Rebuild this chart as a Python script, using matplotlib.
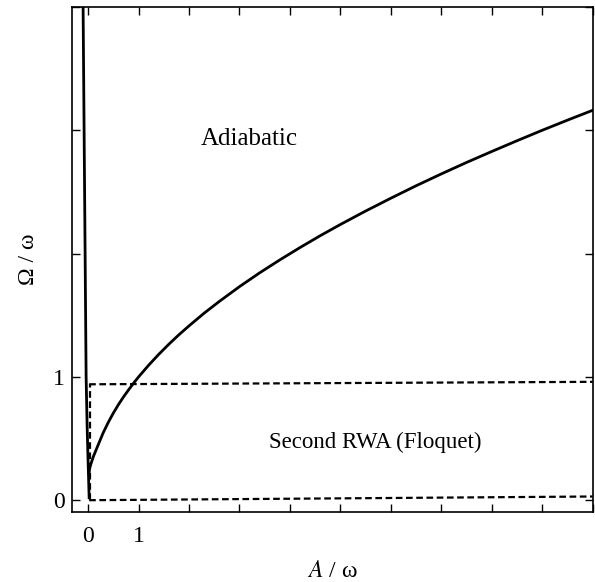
import numpy as np
import matplotlib
matplotlib.use("Agg")
import matplotlib.pyplot as plt

# ------------------------------------------------------------------
# Data
# ------------------------------------------------------------------
# boundary curve (adiabatic / RWA crossover)
curve_A     = [0.02, 0.03, 0.06, 0.1, 0.15, 0.2, 0.3, 0.4, 0.5, 0.6, 0.7, 0.8, 0.9,
               1.0, 1.2, 1.4, 1.6, 1.8, 2.0, 2.3, 2.6, 3.0, 3.4, 3.8, 4.2, 4.6,
               5.0, 5.5, 6.0, 6.5, 7.0, 7.5, 8.0, 8.5, 9.0, 9.5, 10.0]
curve_Omega = [0.22, 0.26, 0.30, 0.35, 0.40, 0.45, 0.548, 0.632, 0.707, 0.775, 0.837,
               0.894, 0.949, 1.000, 1.095, 1.183, 1.265, 1.342, 1.414, 1.517, 1.612,
               1.732, 1.844, 1.949, 2.049, 2.145, 2.236, 2.345, 2.449, 2.550, 2.646,
               2.739, 2.828, 2.915, 3.000, 3.082, 3.162]

# near-vertical solid boundary at small A
left_A     = [-0.10, -0.07, -0.04, -0.02, 0.0, 0.02]
left_Omega = [4.0, 2.5, 1.0, 0.6, 0.3, 0.02]

# dashed region boundaries (second RWA)
upper_A     = [0.02, 10.0]
upper_Omega = [0.94, 0.96]
lower_A     = [0.02, 10.0]
lower_Omega = [0.0, 0.03]
vert_A      = [0.03, 0.03]
vert_Omega  = [0.0, 0.94]

x_ticks = list(range(0, 11))
x_tick_labels = ["0", "1"] + [""] * 9
y_ticks = [0, 1, 2, 3, 4]
y_tick_labels = ["0", "1", "", "", ""]

# ------------------------------------------------------------------
# Plot
# ------------------------------------------------------------------
plt.rcParams['font.family'] = ['Liberation Serif', 'DejaVu Serif']
plt.rcParams['mathtext.fontset'] = 'stix'

fig = plt.figure(figsize=(5.95, 5.82), dpi=100)
ax = fig.add_axes([0.121, 0.120, 0.875, 0.868])

ax.plot(curve_A, curve_Omega, color='black', lw=2.0, solid_joinstyle='round')
ax.plot(left_A, left_Omega, color='black', lw=2.0, solid_joinstyle='round')

dash = (0, (3.0, 1.6))
ax.plot(upper_A, upper_Omega, color='black', lw=1.6, linestyle=dash)
ax.plot(lower_A, lower_Omega, color='black', lw=1.6, linestyle=dash)
ax.plot(vert_A, vert_Omega, color='black', lw=1.6, linestyle=dash)

ax.text(3.2, 2.93, "Adiabatic", ha='center', va='center', fontsize=18)
ax.text(5.7, 0.47, "Second RWA (Floquet)", ha='center', va='center', fontsize=16.5)

ax.set_xlim(-0.32, 10.0)
ax.set_ylim(-0.097, 4.0)
ax.set_xticks(x_ticks)
ax.set_xticklabels(x_tick_labels)
ax.set_yticks(y_ticks)
ax.set_yticklabels(y_tick_labels)
ax.tick_params(direction='in', length=6, width=1.0, top=True, right=True,
               labelsize=17)
ax.tick_params(axis='x', pad=10)
ax.tick_params(axis='y', pad=5)

for s in ax.spines.values():
    s.set_linewidth(1.2)

ax.set_xlabel(r"$A$ / ω", fontsize=17, labelpad=10)
ax.set_ylabel("Ω / ω", fontsize=17, labelpad=10)

fig.savefig("out.png", dpi=100)
